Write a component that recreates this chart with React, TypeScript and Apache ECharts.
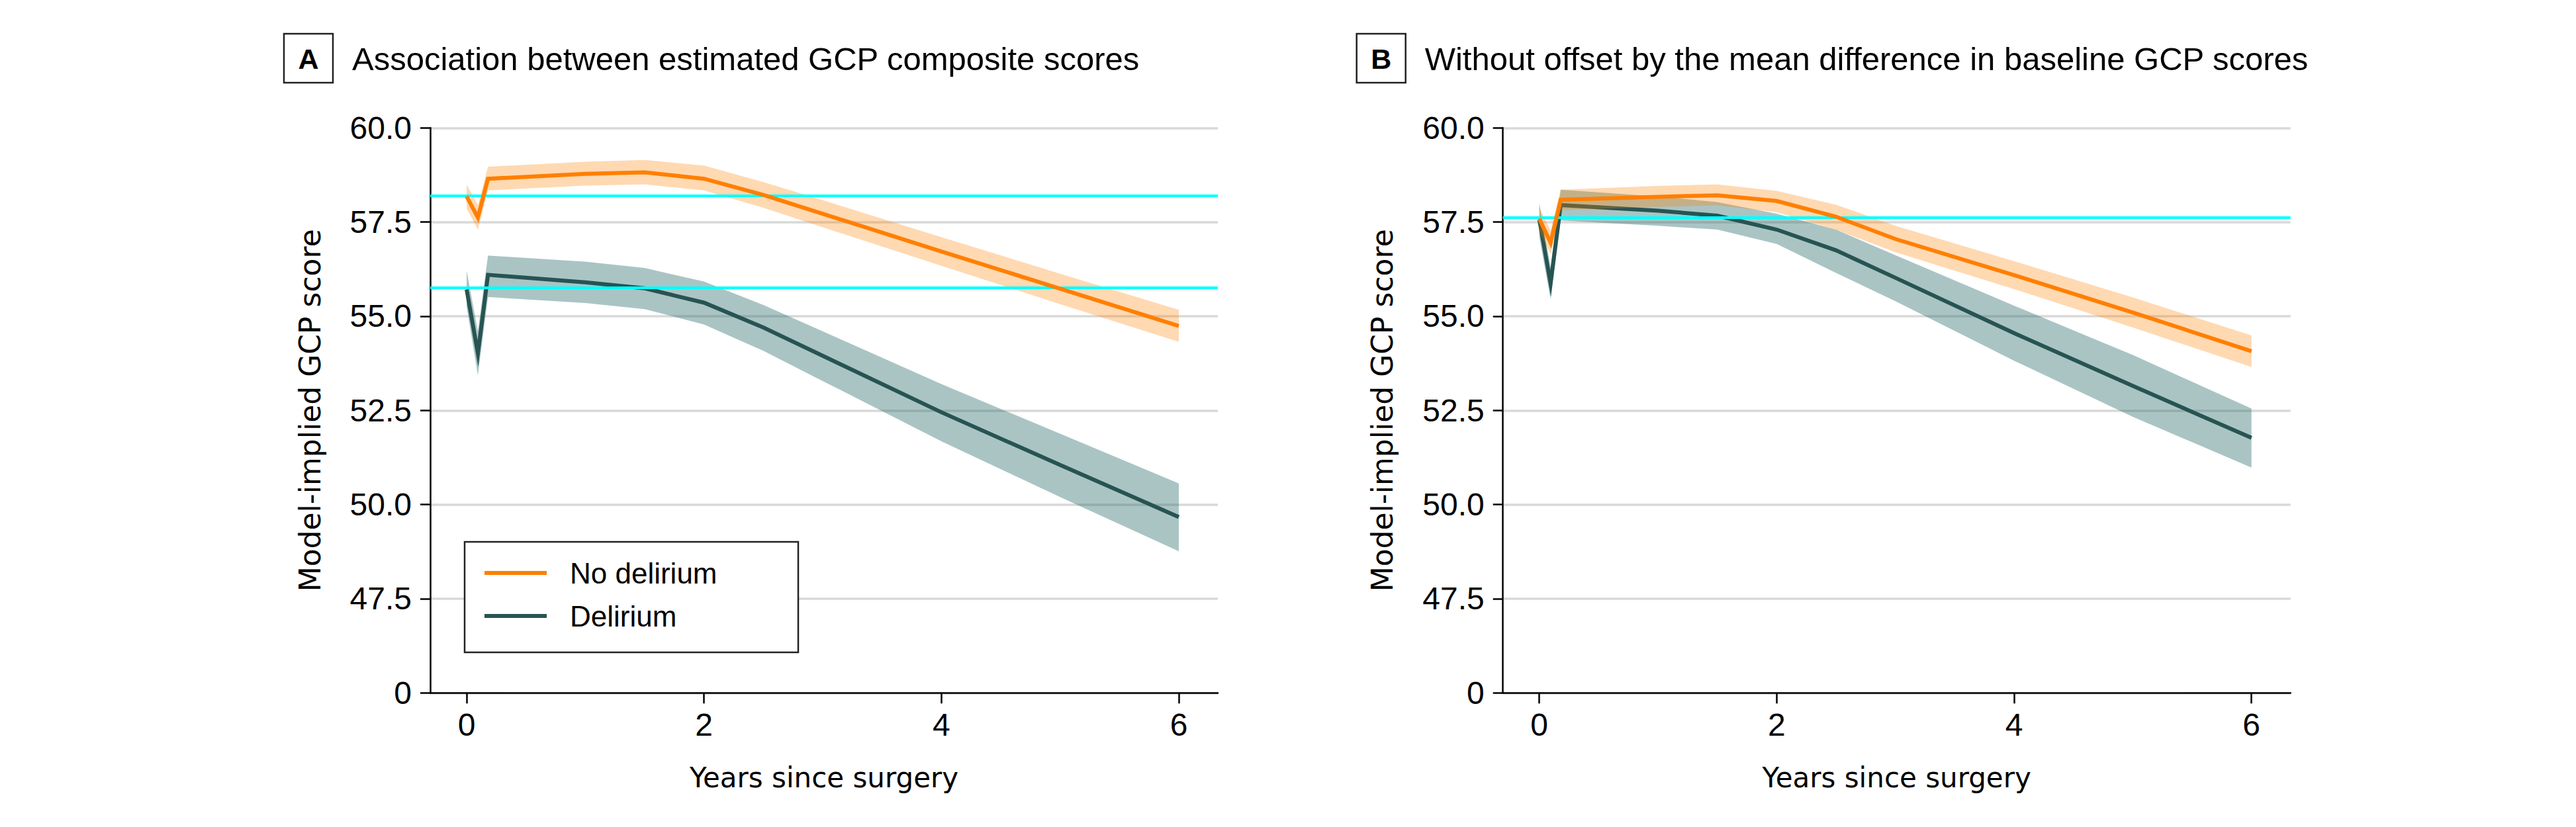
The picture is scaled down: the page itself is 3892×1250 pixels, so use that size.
import React, { useEffect, useRef } from "react";
import * as echarts from "echarts";

// ---- data (years since surgery) ----
const years = [0, 0.095, 0.18, 1, 1.5, 2, 2.5, 3, 4, 5, 6];

// Panel A
const noDelA = [58.18, 57.62, 58.65, 58.78, 58.82, 58.65, 58.22, 57.72, 56.72, 55.73, 54.74];
const noDelALo = [57.86, 57.3, 58.34, 58.47, 58.5, 58.34, 57.88, 57.36, 56.34, 55.32, 54.32];
const noDelAHi = [58.5, 57.95, 58.97, 59.1, 59.15, 59.0, 58.56, 58.08, 57.1, 56.13, 55.17];
const delA = [55.71, 54.01, 56.1, 55.9, 55.74, 55.36, 54.7, 53.95, 52.45, 51.05, 49.67];
const delALo = [55.25, 53.43, 55.51, 55.35, 55.19, 54.78, 54.08, 53.28, 51.68, 50.2, 48.76];
const delAHi = [56.21, 54.6, 56.61, 56.45, 56.28, 55.92, 55.3, 54.6, 53.2, 51.88, 50.56];
const baselineA = [58.2, 55.76];

// Panel B
const noDelB = [57.59, 56.95, 58.09, 58.17, 58.21, 58.06, 57.64, 57.05, 56.09, 55.1, 54.07];
const noDelBLo = [57.27, 56.65, 57.82, 57.9, 57.94, 57.76, 57.3, 56.7, 55.72, 54.7, 53.65];
const noDelBHi = [57.88, 57.28, 58.36, 58.46, 58.5, 58.33, 57.96, 57.4, 56.46, 55.5, 54.49];
const delB = [57.57, 55.87, 57.95, 57.8, 57.67, 57.3, 56.75, 56.02, 54.55, 53.15, 51.77];
const delBLo = [57.1, 55.45, 57.54, 57.4, 57.3, 56.92, 56.15, 55.4, 53.82, 52.33, 50.98];
const delBHi = [58.0, 56.3, 58.36, 58.18, 58.03, 57.72, 57.3, 56.62, 55.28, 53.97, 52.55];
const baselineB = [57.62];

const xTicks = [0, 2, 4, 6];
const yTickLabels: Record<string, string> = { "45": "0" };

const seriesNames = ["No delirium", "Delirium"];
const panelTitles = [
  "Association between estimated GCP composite scores",
  "Without offset by the mean difference in baseline GCP scores",
];
const panelLetters = ["A", "B"];

const ORANGE = "#FF7F00";
const ORANGE_BAND = "rgba(255,128,0,0.3)";
const TEAL = "#275452";
const TEAL_BAND = "rgba(42,107,107,0.4)";
const CYAN = "#00FFFF";

const NUM_FONT = "'Liberation Sans', Arial, sans-serif";
const NAME_FONT = "'DejaVu Sans', Verdana, sans-serif";

const GRID_W = 1190;
const GRID_H = 854;
const GRID_TOP = 193.3;
const GRID_LEFTS = [650, 2270.7];

function band(xs: number[], lo: number[], hi: number[], color: string, idx: number, z: number) {
  return {
    type: "custom",
    xAxisIndex: idx,
    yAxisIndex: idx,
    silent: true,
    z,
    clip: true,
    data: [[xs[0], lo[0]]],
    renderItem: (params: any, api: any) => {
      if (params.dataIndex !== 0) return null;
      const pts: number[][] = [];
      for (let i = 0; i < xs.length; i++) pts.push(api.coord([xs[i], hi[i]]));
      for (let i = xs.length - 1; i >= 0; i--) pts.push(api.coord([xs[i], lo[i]]));
      return { type: "polygon", shape: { points: pts }, style: { fill: color } };
    },
  };
}

function line(name: string, xs: number[], ys: number[], color: string, idx: number, z: number) {
  return {
    type: "line",
    name,
    xAxisIndex: idx,
    yAxisIndex: idx,
    data: xs.map((x, i) => [x, ys[i]]),
    symbol: "none",
    showSymbol: false,
    silent: true,
    z,
    itemStyle: { color },
    lineStyle: { color, width: 6, join: "miter", miterLimit: 20 },
  };
}

function baseline(values: number[], idx: number) {
  return {
    type: "line",
    xAxisIndex: idx,
    yAxisIndex: idx,
    data: [],
    z: 1,
    silent: true,
    markLine: {
      silent: true,
      symbol: ["none", "none"],
      label: { show: false },
      lineStyle: { color: CYAN, width: 4, type: "solid" },
      data: values.map((v) => ({ yAxis: v })),
    },
  };
}

export default function App() {
  const ref = useRef<HTMLDivElement>(null);
  useEffect(() => {
    document.body.style.margin = "0";
    if (!ref.current) return;
    const chart = echarts.init(ref.current, null, { renderer: "svg" });

    const grids = GRID_LEFTS.map((left) => ({ left, top: GRID_TOP, width: GRID_W, height: GRID_H, containLabel: false }));
    const xAxes = [0, 1].map((i) => ({
      type: "value",
      gridIndex: i,
      min: -0.3067,
      max: 6.329,
      axisLine: { show: true, onZero: false, lineStyle: { color: "#000", width: 2.5 } },
      axisTick: { show: true, customValues: xTicks, length: 16, lineStyle: { color: "#000", width: 2.5 } },
      axisLabel: { customValues: xTicks, fontSize: 48, color: "#000", margin: 24, fontFamily: NUM_FONT },
      splitLine: { show: false },
      name: "Years since surgery",
      nameLocation: "middle",
      nameGap: 107,
      nameTextStyle: { fontSize: 42, color: "#000", fontFamily: NAME_FONT },
    }));
    const yAxes = [0, 1].map((i) => ({
      type: "value",
      gridIndex: i,
      min: 45,
      max: 60,
      interval: 2.5,
      axisLine: { show: true, onZero: false, lineStyle: { color: "#000", width: 2.5 } },
      axisTick: { show: true, length: 15, lineStyle: { color: "#000", width: 2.5 } },
      axisLabel: {
        fontSize: 48,
        color: "#000",
        margin: 28,
        fontFamily: NUM_FONT,
        formatter: (v: number) => yTickLabels[String(v)] ?? v.toFixed(1),
      },
      splitLine: { show: true, lineStyle: { color: "#D9D9D9", width: 3.5 } },
      name: "Model-implied GCP score",
      nameLocation: "middle",
      nameGap: 160,
      nameRotate: 90,
      nameTextStyle: { fontSize: 44, color: "#000", fontFamily: NAME_FONT },
    }));

    const series: any[] = [
      baseline(baselineA, 0),
      band(years, delALo, delAHi, TEAL_BAND, 0, 2),
      line(seriesNames[1], years, delA, TEAL, 0, 3),
      band(years, noDelALo, noDelAHi, ORANGE_BAND, 0, 4),
      line(seriesNames[0], years, noDelA, ORANGE, 0, 5),
      baseline(baselineB, 1),
      band(years, delBLo, delBHi, TEAL_BAND, 1, 2),
      line(seriesNames[1], years, delB, TEAL, 1, 3),
      band(years, noDelBLo, noDelBHi, ORANGE_BAND, 1, 4),
      line(seriesNames[0], years, noDelB, ORANGE, 1, 5),
    ];

    const graphic: any[] = [];
    [429, 2049.7].forEach((bx, i) => {
      graphic.push({
        type: "rect",
        shape: { x: bx, y: 51, width: 74, height: 74 },
        style: { fill: "#fff", stroke: "#222", lineWidth: 2.5 },
      });
      graphic.push({
        type: "text",
        x: bx + 37,
        y: 89,
        style: {
          text: panelLetters[i],
          fontSize: 43,
          fontWeight: "bold",
          fontFamily: NUM_FONT,
          fill: "#000",
          align: "center",
          verticalAlign: "middle",
        },
      });
      graphic.push({
        type: "text",
        x: bx + 103,
        y: 89,
        style: {
          text: panelTitles[i],
          fontSize: 49,
          fontFamily: NUM_FONT,
          fill: "#000",
          align: "left",
          verticalAlign: "middle",
        },
      });
    });
    // legend frame
    graphic.push({
      type: "rect",
      shape: { x: 702, y: 819, width: 504, height: 167 },
      style: { fill: "#fff", stroke: "#222", lineWidth: 2.5 },
      z: 10,
    });

    chart.setOption({
      animation: false,
      backgroundColor: "#fff",
      grid: grids,
      xAxis: xAxes,
      yAxis: yAxes,
      series,
      graphic,
      legend: {
        data: seriesNames,
        orient: "vertical",
        left: 732,
        top: 841,
        padding: 0,
        itemGap: 15,
        itemWidth: 94,
        itemHeight: 6,
        icon: "rect",
        z: 20,
        selectedMode: false,
        textStyle: { fontSize: 44, lineHeight: 50, color: "#000", fontFamily: NUM_FONT, padding: [0, 0, 0, 30] },
      },
    });
    return () => chart.dispose();
  }, []);
  return <div ref={ref} style={{ width: 3892, height: 1250 }} />;
}
